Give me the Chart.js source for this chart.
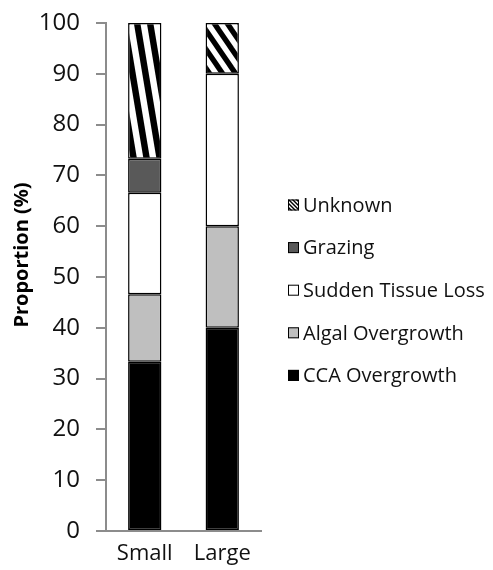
<!DOCTYPE html>
<html>
<head>
<meta charset="utf-8">
<script src="https://cdn.jsdelivr.net/npm/chart.js@4.4.1/dist/chart.umd.min.js"></script>
<style>
  html, body { margin: 0; padding: 0; background: #fff; }
  #wrap { width: 493px; height: 570px; position: relative; }
</style>
</head>
<body>
<div id="wrap"><canvas id="c" width="493" height="570"></canvas></div>
<script>
// ---- data ----
const categories = ['Small', 'Large'];
const ccaOvergrowth = [33.3, 40];
const algalOvergrowth = [13.3, 20];
const suddenTissueLoss = [20, 30];
const grazing = [6.7, 0];
const unknown = [26.7, 10];
const seriesLabels = ['CCA Overgrowth', 'Algal Overgrowth', 'Sudden Tissue Loss', 'Grazing', 'Unknown'];
const yMin = 0, yMax = 100, yStep = 10;
const yTitle = 'Proportion (%)';

// ---- styles ----
const FONT = '"Open Sans", "DejaVu Sans", sans-serif';
const canvas = document.getElementById('c');
const ctx0 = canvas.getContext('2d');

function makeHatch(w, h) {
  const t = document.createElement('canvas');
  t.width = w; t.height = h;
  const g = t.getContext('2d');
  g.fillStyle = '#fff'; g.fillRect(0, 0, w, h);
  g.fillStyle = '#000';
  g.beginPath();
  g.moveTo(0, 0); g.lineTo(w / 2, 0); g.lineTo(w, h / 2); g.lineTo(w, h); g.closePath();
  g.fill();
  g.beginPath();
  g.moveTo(0, h / 2); g.lineTo(w / 2, h); g.lineTo(0, h); g.closePath();
  g.fill();
  return ctx0.createPattern(t, 'repeat');
}
// stretched hatch per bar (Small is tall and narrow, Large short)
const barHatch = [makeHatch(13, 78), makeHatch(13, 19)];
const swatchHatch = makeHatch(4, 4);

const colors = ['#000000', '#bfbfbf', '#ffffff', '#595959', null];
const values = [ccaOvergrowth, algalOvergrowth, suddenTissueLoss, grazing, unknown];

const datasets = values.map((v, i) => ({
  label: seriesLabels[i],
  data: v,
  backgroundColor: colors[i] ? colors[i] : (c) => barHatch[c.dataIndex] || barHatch[0],
  borderColor: '#000',
  borderWidth: 1.5,
  borderSkipped: false,
  barPercentage: 0.43,
  categoryPercentage: 1.0
}));

const customDraw = {
  id: 'customDraw',
  afterDraw(chart) {
    const ctx = chart.ctx;
    ctx.save();
    // y axis title
    ctx.translate(22, 255);
    ctx.rotate(-Math.PI / 2);
    ctx.font = 'bold 20px ' + FONT;
    ctx.fillStyle = '#000';
    ctx.textAlign = 'center';
    ctx.textBaseline = 'middle';
    ctx.fillText(yTitle, 0, 0);
    ctx.restore();

    // legend (reverse order, like the stack)
    ctx.save();
    ctx.font = '20px ' + FONT;
    ctx.textBaseline = 'middle';
    ctx.textAlign = 'left';
    const ds = chart.data.datasets.slice().reverse();
    ds.forEach((d, i) => {
      const cy = 205 + i * 42.6;
      const bx = 288, bs = 11;
      ctx.fillStyle = (typeof d.backgroundColor === 'function') ? swatchHatch : d.backgroundColor;
      ctx.fillRect(bx, cy - bs / 2, bs, bs);
      ctx.strokeStyle = '#000';
      ctx.lineWidth = 1;
      ctx.strokeRect(bx + 0.5, cy - bs / 2 + 0.5, bs - 1, bs - 1);
      ctx.fillStyle = '#111';
      ctx.fillText(d.label, 303, cy + 1);
    });
    ctx.restore();
  }
};

new Chart(canvas, {
  type: 'bar',
  data: { labels: categories, datasets: datasets },
  options: {
    responsive: false,
    animation: false,
    layout: { padding: { top: 23, right: 232, left: 0, bottom: 0 } },
    plugins: { legend: { display: false }, tooltip: { enabled: false } },
    scales: {
      x: {
        stacked: true,
        grid: { display: false, drawTicks: false },
        border: { display: true, color: '#8c8c8c', width: 2 },
        ticks: { color: '#111', font: { family: FONT, size: 22 }, padding: 10 },
        afterFit(s) { s.height = 39; s.paddingLeft = 0; s.paddingRight = 0; }
      },
      y: {
        stacked: true,
        min: yMin, max: yMax,
        grid: { display: true, drawOnChartArea: false, drawTicks: true, tickLength: 10, color: '#8c8c8c', lineWidth: 2 },
        border: { display: true, color: '#8c8c8c', width: 2 },
        ticks: { stepSize: yStep, color: '#111', font: { family: FONT, size: 24 }, padding: 16 },
        afterFit(s) { s.width = 106; s.paddingTop = 0; s.paddingBottom = 0; }
      }
    }
  },
  plugins: [customDraw]
});
</script>
</body>
</html>
